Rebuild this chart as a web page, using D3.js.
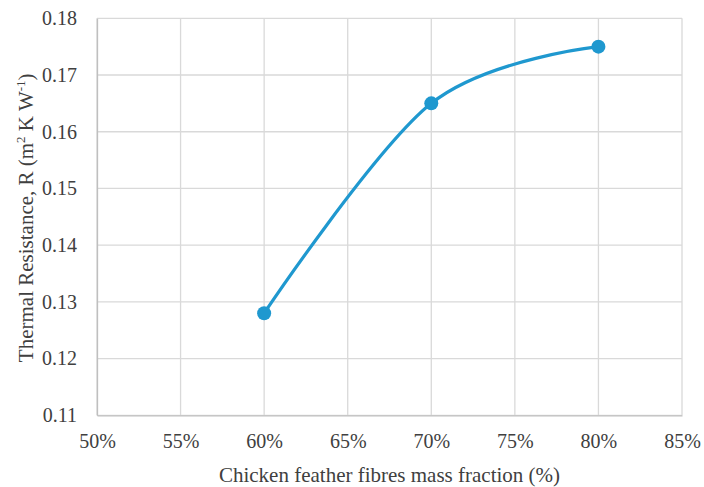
<!DOCTYPE html>
<html>
<head>
<meta charset="utf-8">
<script src="https://cdn.jsdelivr.net/npm/d3@7"></script>
<style>
  html, body { margin: 0; padding: 0; background: #fff; }
  svg text, svg tspan { font-family: "Liberation Serif", "Times New Roman", Tinos, serif !important; }
</style>
</head>
<body>
<script>
const categories = [0.60, 0.70, 0.80];
const resistance = [0.128, 0.165, 0.175];
const xTicks = [0.50, 0.55, 0.60, 0.65, 0.70, 0.75, 0.80, 0.85];
const yTicks = [0.11, 0.12, 0.13, 0.14, 0.15, 0.16, 0.17, 0.18];
const xTitle = "Chicken feather fibres mass fraction (%)";

const W = 704, H = 487;
const margin = { left: 97, right: 22, top: 18.3, bottom: 71.7 };

const svg = d3.select("body").append("svg").attr("width", W).attr("height", H)
  .style("font-family", "'Liberation Serif'");

const x = d3.scaleLinear().domain([0.50, 0.85]).range([margin.left, W - margin.right]);
const y = d3.scaleLinear().domain([0.11, 0.18]).range([H - margin.bottom, margin.top]);

// gridlines
const grid = svg.append("g");
grid.selectAll("line.v").data(xTicks).join("line")
  .attr("x1", d => x(d)).attr("x2", d => x(d))
  .attr("y1", y(0.18)).attr("y2", y(0.11))
  .attr("stroke", "#d9d9d9").attr("stroke-width", 1.3);
grid.selectAll("line.h").data(yTicks).join("line")
  .attr("x1", x(0.50)).attr("x2", x(0.85))
  .attr("y1", d => y(d)).attr("y2", d => y(d))
  .attr("stroke", "#d9d9d9").attr("stroke-width", 1.3);

// axes
const xAxis = svg.append("g").attr("transform", `translate(0,${y(0.11)})`)
  .call(d3.axisBottom(x).tickValues(xTicks).tickFormat(d3.format(".0%")).tickSize(0).tickPadding(19));
xAxis.attr("font-family", null).attr("font-size", null);
xAxis.select(".domain").attr("stroke", "#bfbfbf").attr("stroke-width", 1.3);
xAxis.selectAll("text").attr("fill", "#404040").attr("font-size", 20);

const yAxis = svg.append("g").attr("transform", `translate(${x(0.50)},0)`)
  .call(d3.axisLeft(y).tickValues(yTicks).tickFormat(d3.format(".2f")).tickSize(0).tickPadding(20));
yAxis.attr("font-family", null).attr("font-size", null);
yAxis.select(".domain").attr("stroke", "#bfbfbf").attr("stroke-width", 1.3);
yAxis.selectAll("text").attr("fill", "#404040").attr("font-size", 20);

// line
const data = categories.map((c, i) => ({ x: c, y: resistance[i] }));
const line = d3.line().x(d => x(d.x)).y(d => y(d.y)).curve(d3.curveCatmullRom.alpha(0));
svg.append("path").datum(data).attr("d", line)
  .attr("fill", "none").attr("stroke", "#1f98cf").attr("stroke-width", 3.2)
  .attr("stroke-linecap", "round");
svg.selectAll("circle.pt").data(data).join("circle")
  .attr("cx", d => x(d.x)).attr("cy", d => y(d.y)).attr("r", 7)
  .attr("fill", "#1f98cf");

// axis titles
svg.append("text").attr("x", (x(0.50) + x(0.85)) / 2).attr("y", 482).attr("text-anchor", "middle")
  .attr("font-size", 21).attr("fill", "#404040").text(xTitle);

const yt = svg.append("text").attr("transform", `translate(33,${(y(0.18) + y(0.11)) / 2 + 1}) rotate(-90)`)
  .attr("text-anchor", "middle").attr("font-size", 21).attr("fill", "#404040");
yt.append("tspan").text("Thermal Resistance, R (m");
yt.append("tspan").attr("font-size", 13).attr("dy", -8).text("2");
yt.append("tspan").attr("dy", 8).text(" K W");
yt.append("tspan").attr("font-size", 13).attr("dy", -8).text("-1");
yt.append("tspan").attr("dy", 8).text(")");
</script>
</body>
</html>
